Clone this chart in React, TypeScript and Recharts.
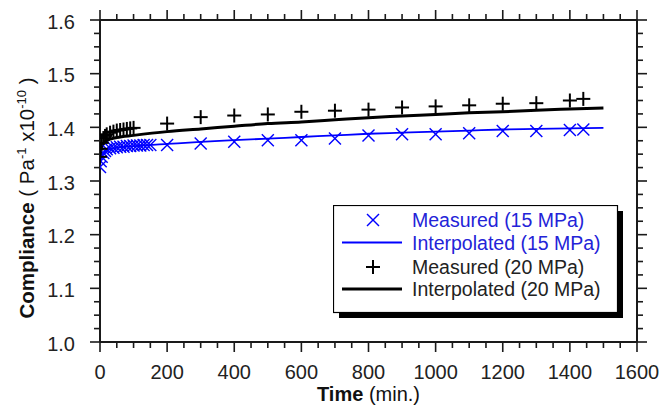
import React from "react";
import { ComposedChart, Line, Scatter, XAxis, YAxis, Legend, Label } from "recharts";

// measured creep compliance, 15 MPa (x markers)
const T15 = [0, 2, 5, 10, 15, 20, 30, 40, 50, 60, 70, 80, 90, 100, 110, 120, 130, 140, 150, 200, 300, 400, 500, 600, 700, 800, 900, 1000, 1100, 1200, 1300, 1400, 1440];
const C15 = [1.326, 1.337, 1.345, 1.352, 1.356, 1.359, 1.361, 1.362, 1.363, 1.364, 1.364, 1.365, 1.365, 1.366, 1.366, 1.366, 1.367, 1.367, 1.367, 1.367, 1.37, 1.373, 1.376, 1.376, 1.379, 1.385, 1.387, 1.387, 1.389, 1.393, 1.393, 1.395, 1.396];

// measured creep compliance, 20 MPa (+ markers)
const T20 = [0, 2, 5, 10, 15, 20, 30, 40, 50, 60, 70, 80, 90, 100, 200, 300, 400, 500, 600, 700, 800, 900, 1000, 1100, 1200, 1300, 1400, 1440];
const C20 = [1.345, 1.36, 1.371, 1.38, 1.384, 1.387, 1.39, 1.392, 1.394, 1.395, 1.396, 1.397, 1.398, 1.399, 1.407, 1.419, 1.422, 1.424, 1.429, 1.431, 1.433, 1.437, 1.439, 1.441, 1.444, 1.445, 1.45, 1.453];

// interpolated curves
const T_FIT = [0, 5, 10, 20, 50, 100, 200, 300, 400, 500, 600, 700, 800, 900, 1000, 1100, 1200, 1300, 1400, 1500];
const FIT15 = [1.33, 1.345, 1.352, 1.357, 1.362, 1.365, 1.369, 1.373, 1.376, 1.379, 1.382, 1.385, 1.388, 1.39, 1.392, 1.394, 1.396, 1.397, 1.398, 1.399];
const FIT20 = [1.345, 1.362, 1.369, 1.375, 1.381, 1.385, 1.392, 1.397, 1.402, 1.407, 1.41, 1.414, 1.418, 1.421, 1.424, 1.427, 1.429, 1.432, 1.434, 1.436];

const X_LABELS = [0, 200, 400, 600, 800, 1000, 1200, 1400, 1600];
const Y_LABELS = [1.0, 1.1, 1.2, 1.3, 1.4, 1.5, 1.6];
const NAMES = ["Measured (15 MPa)", "Interpolated (15 MPa)", "Measured (20 MPa)", "Interpolated (20 MPa)"];

const BLUE = "#0000ff";
const INK = "#1a1a1a";
const FONT = "'Liberation Sans', Arial, sans-serif";

const zip = (ts: number[], cs: number[]) => ts.map((t, i) => ({ t, c: cs[i] }));

// minor ticks every 50 min / 0.025
const X_TICKS: number[] = [];
for (let v = 0; v <= 1600; v += 50) X_TICKS.push(v);
const Y_TICKS: number[] = [];
for (let i = 0; i <= 24; i++) Y_TICKS.push(+(1 + i * 0.025).toFixed(3));

const isMajorY = (v: number) => Y_LABELS.some((l) => Math.abs(l - v) < 1e-6);

function AxisTick(props: any) {
  const { x, y, payload, side } = props;
  const v = payload.value;
  const horiz = side === "bottom" || side === "top";
  const major = horiz ? X_LABELS.includes(v) : isMajorY(v);
  const len = major ? 10 : 6;
  const ln = { stroke: INK, strokeWidth: 1.6 };
  if (side === "bottom")
    return (
      <g>
        <line x1={x} y1={y} x2={x} y2={y + len} {...ln} />
        {major && (
          <text x={x} y={y + 37} textAnchor="middle" fontSize={20} fill="#222">
            {v}
          </text>
        )}
      </g>
    );
  if (side === "top") return <line x1={x} y1={y} x2={x} y2={y - len} {...ln} />;
  if (side === "left")
    return (
      <g>
        <line x1={x} y1={y} x2={x - len} y2={y} {...ln} />
        {major && (
          <text x={x - 25} y={y + 8.5} textAnchor="end" fontSize={20} fill="#222">
            {v.toFixed(1)}
          </text>
        )}
      </g>
    );
  return <line x1={x} y1={y} x2={x + len} y2={y} {...ln} />;
}

function XMark({ cx, cy }: any) {
  return (
    <g stroke={BLUE} strokeWidth={1.4}>
      <line x1={cx - 6} y1={cy - 6} x2={cx + 6} y2={cy + 6} />
      <line x1={cx - 6} y1={cy + 6} x2={cx + 6} y2={cy - 6} />
    </g>
  );
}

function PlusMark({ cx, cy }: any) {
  return (
    <g stroke="#000" strokeWidth={2}>
      <line x1={cx - 7} y1={cy} x2={cx + 7} y2={cy} />
      <line x1={cx} y1={cy - 7} x2={cx} y2={cy + 7} />
    </g>
  );
}

function LegendBox() {
  const rows = [15, 37.5, 62, 84];
  const colors = ["#2323d8", "#2323d8", "#222", "#222"];
  return (
    <svg width={292} height={115} style={{ fontFamily: FONT }}>
      <rect x={6} y={6} width={284} height={107} fill="#000" />
      <rect x={0.5} y={0.5} width={284} height={107} fill="#fff" stroke="#000" strokeWidth={1.2} />
      <XMark cx={40} cy={rows[0]} />
      <line x1={9} y1={rows[1]} x2={69} y2={rows[1]} stroke={BLUE} strokeWidth={1.8} />
      <PlusMark cx={40} cy={rows[2]} />
      <line x1={9} y1={rows[3]} x2={69} y2={rows[3]} stroke="#000" strokeWidth={3} />
      {NAMES.map((n, i) => (
        <text key={n} x={79} y={rows[i] + 7} fontSize={19.5} fill={colors[i]}>
          {n}
        </text>
      ))}
    </svg>
  );
}

function YTitle({ viewBox }: any) {
  const cy = viewBox.y + viewBox.height / 2 + 17;
  return (
    <text transform={`translate(34,${cy}) rotate(-90)`} textAnchor="middle" fontSize={20.5} fill="#111">
      <tspan fontWeight="bold">Compliance</tspan>
      <tspan> ( Pa</tspan>
      <tspan dy={-8} fontSize={13}>-1</tspan>
      <tspan dy={8}> x10</tspan>
      <tspan dy={-8} fontSize={13}>-10</tspan>
      <tspan dy={8}> )</tspan>
    </text>
  );
}

function XTitle({ viewBox }: any) {
  const cx = viewBox.x + viewBox.width / 2;
  return (
    <text x={cx} y={401} textAnchor="middle" fontSize={20} fill="#111">
      <tspan fontWeight="bold">Time</tspan>
      <tspan> (min.)</tspan>
    </text>
  );
}

export default function App() {
  const axis = { stroke: INK, strokeWidth: 2 };
  return (
    <div style={{ position: "absolute", left: 0, top: 0, background: "#fff" }}>
      <ComposedChart width={659} height={408} margin={{ top: 19, right: 21, left: 0, bottom: 0 }} style={{ fontFamily: FONT }}>
        <XAxis
          xAxisId="b"
          dataKey="t"
          type="number"
          domain={[0, 1600]}
          allowDataOverflow
          ticks={X_TICKS}
          interval={0}
          height={66}
          tickSize={0}
          tickMargin={0}
          tickLine={false}
          axisLine={axis}
          tick={(p: any) => <AxisTick {...p} side="bottom" />}
        >
          <Label content={<XTitle />} />
        </XAxis>
        <XAxis
          xAxisId="t"
          dataKey="t"
          orientation="top"
          type="number"
          domain={[0, 1600]}
          allowDataOverflow
          ticks={X_TICKS}
          interval={0}
          height={1}
          tickSize={0}
          tickMargin={0}
          tickLine={false}
          axisLine={axis}
          tick={(p: any) => <AxisTick {...p} side="top" />}
        />
        <YAxis
          yAxisId="l"
          dataKey="c"
          type="number"
          domain={[1.0, 1.6]}
          allowDataOverflow
          ticks={Y_TICKS}
          interval={0}
          width={100}
          tickSize={0}
          tickMargin={0}
          tickLine={false}
          axisLine={axis}
          tick={(p: any) => <AxisTick {...p} side="left" />}
        >
          <Label content={<YTitle />} />
        </YAxis>
        <YAxis
          yAxisId="r"
          dataKey="c"
          orientation="right"
          type="number"
          domain={[1.0, 1.6]}
          allowDataOverflow
          ticks={Y_TICKS}
          interval={0}
          width={1}
          tickSize={0}
          tickMargin={0}
          tickLine={false}
          axisLine={axis}
          tick={(p: any) => <AxisTick {...p} side="right" />}
        />
        {/* blue curve is drawn against the top/right frame axes (same domains) so the frame renders */}
        <Line
          xAxisId="t"
          yAxisId="r"
          data={zip(T_FIT, FIT15)}
          dataKey="c"
          name={NAMES[1]}
          type="monotone"
          stroke={BLUE}
          strokeWidth={1.8}
          dot={false}
          isAnimationActive={false}
        />
        <Line
          xAxisId="b"
          yAxisId="l"
          data={zip(T_FIT, FIT20)}
          dataKey="c"
          name={NAMES[3]}
          type="monotone"
          stroke="#000"
          strokeWidth={3}
          dot={false}
          isAnimationActive={false}
        />
        <Scatter xAxisId="b" yAxisId="l" data={zip(T15, C15)} dataKey="c" name={NAMES[0]} shape={<XMark />} isAnimationActive={false} />
        <Scatter xAxisId="b" yAxisId="l" data={zip(T20, C20)} dataKey="c" name={NAMES[2]} shape={<PlusMark />} isAnimationActive={false} />
        <Legend
          layout="vertical"
          align="center"
          verticalAlign="middle"
          wrapperStyle={{ left: 333, top: 205, width: 292, height: 115 }}
          content={<LegendBox />}
        />
      </ComposedChart>
    </div>
  );
}
